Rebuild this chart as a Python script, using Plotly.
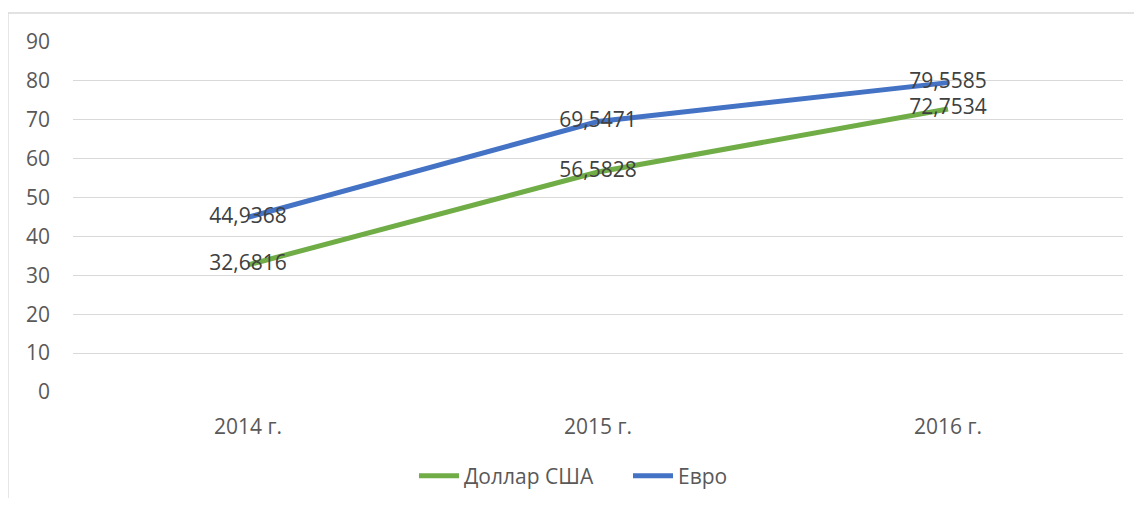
import plotly.graph_objects as go

categories = ["2014 г.", "2015 г.", "2016 г."]
dollar = [32.6816, 56.5828, 72.7534]
euro = [44.9368, 69.5471, 79.5585]
series_names = ["Доллар США", "Евро"]
y_ticks = [0, 10, 20, 30, 40, 50, 60, 70, 80, 90]

def fmt(v):
    return f"{v:.4f}".replace(".", ",")

FONT = "Open Sans"
OFF = 8  # default body margin of the page
W, H = 1142 - 2 * OFF, 506 - 2 * OFF
L, T = 73 - OFF, 42 - OFF
R = W - (1123 - OFF)
B = H - (392 - OFF)
pw, ph = W - L - R, H - T - B

fig = go.Figure()
fig.add_trace(go.Scatter(
    x=categories, y=dollar, name=series_names[0], mode="lines+text",
    line=dict(color="#70AD47", width=5),
    text=[fmt(v) for v in dollar], textposition="middle center",
    textfont=dict(family=FONT, size=21, color="#404040"),
))
fig.add_trace(go.Scatter(
    x=categories, y=euro, name=series_names[1], mode="lines+text",
    line=dict(color="#4472C4", width=5),
    text=[fmt(v) for v in euro], textposition="middle center",
    textfont=dict(family=FONT, size=21, color="#404040"),
))

def px_x(x):
    return (x - OFF - L) / pw
def px_y(y):
    return 1 - (y - OFF - T) / ph

# chart border (outer frame, light grey)
fig.add_shape(type="rect", xref="paper", yref="paper",
              x0=px_x(8), x1=px_x(1160), y0=px_y(530), y1=px_y(13),
              line=dict(color="#D9D9D9", width=1.3), fillcolor="rgba(0,0,0,0)",
              layer="below")

fig.update_layout(
    width=W, height=H,
    margin=dict(l=L, r=R, t=T, b=B, autoexpand=False),
    plot_bgcolor="white", paper_bgcolor="white",
    font=dict(family=FONT, size=21, color="#595959"),
    showlegend=True,
    legend=dict(orientation="h", x=px_x(628), xanchor="center", y=px_y(476), yanchor="middle",
                font=dict(family=FONT, size=21, color="#595959"),
                itemwidth=40, traceorder="normal",
                entrywidth=159, entrywidthmode="pixels"),
    xaxis=dict(range=[-0.5, 2.5], showgrid=False, showline=False, zeroline=False,
               ticks="", ticklabelstandoff=20, automargin=False,
               tickfont=dict(family=FONT, size=21, color="#595959")),
    yaxis=dict(range=[0, 90], tickvals=y_ticks, showgrid=True, gridcolor="#D9D9D9",
               gridwidth=1.3, zeroline=False, showline=False, ticks="",
               ticklabelstandoff=22, automargin=False,
               tickfont=dict(family=FONT, size=21, color="#595959")),
)

fig.write_html("out.html")
